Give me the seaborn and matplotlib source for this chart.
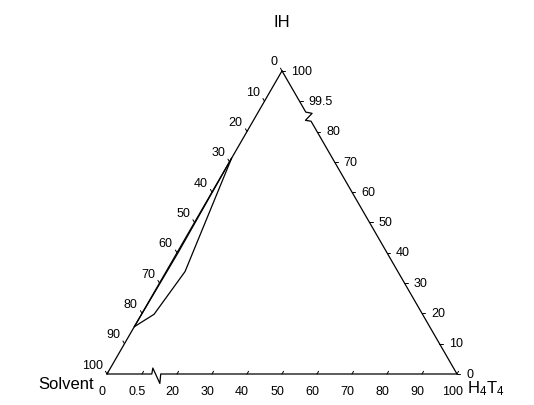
import numpy as np
import pandas as pd
import seaborn as sns
import matplotlib
matplotlib.use("Agg")
import matplotlib.pyplot as plt

sns.set_theme(style="white")
plt.rcParams['font.family'] = ['Liberation Sans', 'DejaVu Sans']
plt.rcParams['mathtext.fontset'] = 'custom'
plt.rcParams['mathtext.rm'] = 'Liberation Sans'
plt.rcParams['mathtext.it'] = 'Liberation Sans'

# ---- data (percent) ----
# curve running along the Solvent-IH edge
a_solvent = [84.4, 59.985, 28.8]
a_ih = [15.6, 40.0, 71.2]
a_h4t4 = [0.0, 0.015, 0.0]
# curve bulging towards H4T4
b_solvent = [84.4, 80.12, 65.93, 28.8]
b_ih = [15.6, 19.7, 33.8, 71.2]
b_h4t4 = [0.0, 0.18, 0.27, 0.0]

bottom_ticks = [0, 0.5, 20, 30, 40, 50, 60, 70, 80, 90, 100]
bottom_labels = ["0", "0.5", "20", "30", "40", "50", "60", "70", "80", "90", "100"]
right_ticks = [100, 99.5, 80, 70, 60, 50, 40, 30, 20, 10, 0]
right_labels = ["100", "99.5", "80", "70", "60", "50", "40", "30", "20", "10", "0"]
left_ticks = [0, 10, 20, 30, 40, 50, 60, 70, 80, 90, 100]
left_labels = [str(v) for v in left_ticks]

S3 = np.sqrt(3) / 2

def h_disp(h):
    h = np.asarray(h, dtype=float)
    return np.where(h <= 1, 20 * h, h)

def ih_disp(v):
    v = np.asarray(v, dtype=float)
    return np.where(v >= 99, 100 - 20 * (100 - v), v)

def to_xy(ih, h):
    hd = h_disp(h)
    idp = ih_disp(ih)
    return hd + idp / 2, idp * S3

fig = plt.figure(figsize=(5.34, 4.05), dpi=100)
ax = fig.add_axes([0, 0, 1, 1])
ax.set_xlim(-107 / 3.5, (534 - 107) / 3.5)
ax.set_ylim(-31 / 3.5, 374 / 3.5)
ax.axis('off')

lw = 0.9
k = 'black'

# ---- triangle edges ----
ax.plot([0, 50], [0, 100 * S3], color=k, lw=lw)

def right_pt(d):
    return 100 - d / 2, d * S3

tx, ty = right_pt(100)
b1x, b1y = right_pt(86.4)
b2x, b2y = right_pt(83.4)
ex, ey = right_pt(0)
rx = [tx, b1x, b1x + 1.8, b2x - 1.6, b2x, ex]
ry = [ty, b1y, b1y - 0.35, b2y + 0.25, b2y, ey]
ax.plot(rx, ry, color=k, lw=lw)

bx = [0, 12.8, 13.1, 15.1, 15.35, 100]
by = [0, 0, 1.7, -2.7, 0, 0]
ax.plot(bx, by, color=k, lw=lw)

# ---- ticks and labels ----
L = 0.9
fs = 9
for v, lab in zip(bottom_ticks, bottom_labels):
    x = float(h_disp(v))
    ax.plot([x, x + 0.5 * L], [0, S3 * L], color=k, lw=0.7)
    ax.text(x - 1.4, -5.2, lab, ha='center', va='center', fontsize=fs, color=k)
for v, lab in zip(right_ticks, right_labels):
    x, y = right_pt(float(ih_disp(v)))
    ax.plot([x, x + L], [y, y], color=k, lw=0.7)
    ax.text(x + 2.6, y - 0.2, lab, ha='left', va='center', fontsize=fs, color=k)
for v, lab in zip(left_ticks, left_labels):
    d = 100 - v
    x, y = d / 2, d * S3
    ax.plot([x, x - 0.5 * L], [y, y + S3 * L], color=k, lw=0.7)
    ax.text(x - 1.2, y + 2.4, lab, ha='right', va='center', fontsize=fs, color=k)

# ---- data curves ----
for sol, ih, h in [(a_solvent, a_ih, a_h4t4), (b_solvent, b_ih, b_h4t4)]:
    X, Y = to_xy(ih, h)
    df = pd.DataFrame({'x': X, 'y': Y, 'solvent': sol})
    sns.lineplot(data=df, x='x', y='y', sort=False, estimator=None,
                 color=k, lw=lw, ax=ax)

# ---- axis titles ----
ax.text(49.9, 100.4, "IH", ha='center', va='center', fontsize=12, color=k)
ax.text(-11.7, -2.9, "Solvent", ha='center', va='center', fontsize=12, color=k)
ax.text(108.2, -4.3, r"H$_4$T$_4$", ha='center', va='center', fontsize=12, color=k)

fig.savefig("out.png", dpi=100)
